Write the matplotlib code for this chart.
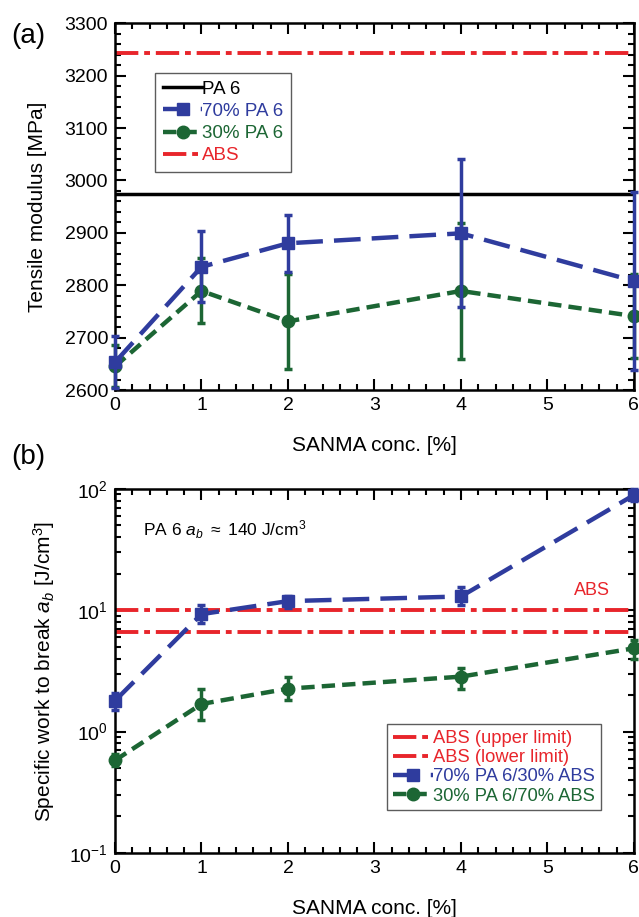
import matplotlib
matplotlib.use("Agg")
import matplotlib.pyplot as plt
import matplotlib.ticker as mticker
from matplotlib.lines import Line2D

plt.rcParams["font.family"] = ["Liberation Sans", "DejaVu Sans"]
plt.rcParams["mathtext.fontset"] = "custom"
plt.rcParams["mathtext.rm"] = "Liberation Sans"
plt.rcParams["mathtext.it"] = "Liberation Sans:italic"

BLUE = "#2f3c9e"
GREEN = "#1c6634"
RED = "#e8252b"

# SANMA concentration [%]
conc = [0, 1, 2, 4, 6]

# (a) tensile modulus [MPa]
pa6_modulus = 2974
abs_modulus = 3243
mod_70 = [2653, 2835, 2880, 2899, 2808]
mod_70_err = [50, 68, 54, 141, 170]
mod_30 = [2645, 2789, 2731, 2789, 2741]
mod_30_err = [40, 62, 90, 130, 80]

# (b) specific work to break [J/cm3]
abs_upper = 10.0
abs_lower = 6.6
ab_70 = [1.8, 9.3, 11.9, 13.0, 89]
ab_70_lo = [0.3, 1.5, 1.4, 2.0, 10]
ab_70_hi = [0.3, 1.7, 1.2, 2.5, 10]
ab_30 = [0.58, 1.69, 2.26, 2.84, 4.86]
ab_30_lo = [0.06, 0.45, 0.45, 0.6, 0.9]
ab_30_hi = [0.07, 0.55, 0.55, 0.5, 0.85]

fig = plt.figure(figsize=(6.39, 9.17), dpi=100)
ax1 = fig.add_axes([0.180, 0.5747, 0.812, 0.400])
ax2 = fig.add_axes([0.180, 0.0698, 0.812, 0.397])

dash_blue = (0, (6, 2.5))
dash_green = (0, (3, 1.6))
dashdot = (0, (6, 1.5, 1.5, 1.5))
err_kw = dict(lw=3.2, ms=9, elinewidth=2.5, capsize=3, capthick=2.5)

# panel (a)
ax1.axhline(pa6_modulus, color="black", lw=2.5)
ax1.errorbar(conc, mod_70, yerr=mod_70_err, color=BLUE, ls=dash_blue, marker="s",
             clip_on=False, zorder=4, **err_kw)
ax1.errorbar(conc, mod_30, yerr=mod_30_err, color=GREEN, ls=dash_green, marker="o",
             clip_on=False, zorder=3, **err_kw)
ax1.axhline(abs_modulus, color=RED, ls=dashdot, lw=2.8)
ax1.set_xlim(0, 6)
ax1.set_ylim(2600, 3300)
ax1.xaxis.set_major_locator(mticker.MultipleLocator(1))
ax1.xaxis.set_minor_locator(mticker.MultipleLocator(0.2))
ax1.yaxis.set_major_locator(mticker.MultipleLocator(100))
ax1.yaxis.set_minor_locator(mticker.MultipleLocator(20))
ax1.set_xlabel("SANMA conc. [%]", fontsize=15, labelpad=16)
ax1.set_ylabel("Tensile modulus [MPa]", fontsize=15, labelpad=13)

handles1 = [
    Line2D([], [], color="black", lw=2.5),
    Line2D([], [], color=BLUE, ls=dash_blue, lw=3.2, marker="s", ms=9),
    Line2D([], [], color=GREEN, ls=dash_green, lw=3.2, marker="o", ms=9),
    Line2D([], [], color=RED, ls=dashdot, lw=2.8),
]
labels1 = ["PA 6", "70% PA 6", "30% PA 6", "ABS"]
leg1 = ax1.legend(handles1, labels1, loc="upper left", bbox_to_anchor=(0.078, 0.864),
                  borderaxespad=0, fontsize=13.5, handlelength=2.1, handletextpad=0.0,
                  labelspacing=0.27, fancybox=False, edgecolor="#333333", borderpad=0.4)
for txt, c in zip(leg1.get_texts(), ["black", BLUE, GREEN, RED]):
    txt.set_color(c)
fig.text(0.017, 0.953, "(a)", fontsize=20)

# panel (b)
ax2.axhline(abs_upper, color=RED, ls=dashdot, lw=2.8)
ax2.axhline(abs_lower, color=RED, ls=dashdot, lw=2.8)
ax2.errorbar(conc, ab_70, yerr=[ab_70_lo, ab_70_hi], color=BLUE, ls=dash_blue, marker="s",
             clip_on=False, zorder=4, **err_kw)
ax2.errorbar(conc, ab_30, yerr=[ab_30_lo, ab_30_hi], color=GREEN, ls=dash_green, marker="o",
             clip_on=False, zorder=3, **err_kw)
ax2.set_yscale("log")
ax2.set_xlim(0, 6)
ax2.set_ylim(0.1, 100)
ax2.xaxis.set_major_locator(mticker.MultipleLocator(1))
ax2.xaxis.set_minor_locator(mticker.MultipleLocator(0.2))
ax2.yaxis.set_major_locator(mticker.LogLocator(base=10))
ax2.yaxis.set_minor_locator(mticker.LogLocator(base=10, subs=range(2, 10)))
ax2.yaxis.set_minor_formatter(mticker.NullFormatter())
ax2.set_xlabel("SANMA conc. [%]", fontsize=15, labelpad=16)
ax2.set_ylabel("Specific work to break $a_b$ [J/cm$^3$]", fontsize=15, labelpad=9)
ax2.text(0.054, 0.887, r"PA 6 $a_b$ $\approx$ 140 J/cm$^3$", transform=ax2.transAxes,
         fontsize=12.5, va="center")
ax2.text(0.92, 0.72, "ABS", transform=ax2.transAxes, color=RED, fontsize=13,
         ha="center", va="center")

handles2 = [
    Line2D([], [], color=RED, ls=dashdot, lw=2.8),
    Line2D([], [], color=RED, ls=dashdot, lw=2.8),
    Line2D([], [], color=BLUE, ls=dash_blue, lw=3.2, marker="s", ms=9),
    Line2D([], [], color=GREEN, ls=dash_green, lw=3.2, marker="o", ms=9),
]
labels2 = ["ABS (upper limit)", "ABS (lower limit)", "70% PA 6/30% ABS", "30% PA 6/70% ABS"]
leg2 = ax2.legend(handles2, labels2, loc="lower right", bbox_to_anchor=(0.936, 0.118),
                  borderaxespad=0, fontsize=13.2, handlelength=2.2, handletextpad=0.0,
                  labelspacing=0.12, fancybox=False, edgecolor="#333333", borderpad=0.3)
for txt, c in zip(leg2.get_texts(), [RED, RED, BLUE, GREEN]):
    txt.set_color(c)
fig.text(0.017, 0.4935, "(b)", fontsize=20)

for ax in (ax1, ax2):
    ax.tick_params(which="both", direction="in", top=True, right=True,
                   labelsize=14, width=1.5)
    ax.tick_params(which="major", length=8, pad=5)
    ax.tick_params(which="minor", length=4)
    for sp in ax.spines.values():
        sp.set_linewidth(1.8)

plt.savefig("out.png", dpi=100)
